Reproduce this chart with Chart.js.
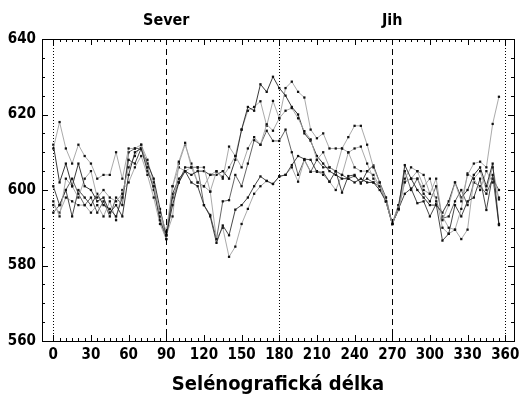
<!DOCTYPE html>
<html>
<head>
<meta charset="utf-8">
<script src="https://cdn.jsdelivr.net/npm/chart.js@4/dist/chart.umd.min.js"></script>
<style>
  html, body { margin: 0; padding: 0; background: #fff; }
  canvas { display: block; }
</style>
</head>
<body>
<canvas id="chart" width="520" height="400"></canvas>
<script>
// longitude samples every 5 degrees, 0..355
const longitudes = [];
for (let d = 0; d <= 355; d += 5) longitudes.push(d);

const xTicks = [0, 30, 60, 90, 120, 150, 180, 210, 240, 270, 300, 330, 360];
const yTicks = [560, 580, 600, 620, 640];
const dashedAt = [90, 270];
const dottedAt = [0, 180, 360];
const topLabels = [{ x: 90, text: 'Sever' }, { x: 270, text: 'Jih' }];

const series1 = [611, 618, 611, 607, 612, 609, 607, 603, 604, 604, 610, 603, 611, 611, 612, 606, 601, 594, 589,
  601, 607.5, 612.5, 606, 606, 606, 599.6, 604.9, 603.5, 606, 609, 606, 611, 614, 612, 617.4, 615.7, 619, 621, 621.7, 619, 615.6, 613.4, 608, 610, 606, 605, 611, 614, 617, 617, 612, 606, 602, 597, 591,
  595, 602, 603, 605, 604, 599, 603, 592, 596, 602, 597, 604, 607, 607.5, 606, 617.5, 624.7];
const series2 = [612, 602, 607, 601, 607, 601, 600, 597, 598, 594, 596, 593, 604, 610, 611, 607, 603, 595, 588,
  596, 602, 605, 604, 605, 605, 604, 604, 605, 603, 608, 616, 622, 621, 628, 626, 630, 627, 625, 622, 620, 615, 613, 609, 607, 605, 604, 603, 603, 602, 603, 602, 602, 600, 597, 591,
  595, 606.6, 603, 600, 598, 596, 596, 594, 597, 602, 598, 600, 604, 606, 601, 607, 591];
const series3 = [597, 593, 603, 601, 598, 603, 605, 598, 600, 598, 597, 599, 606, 609, 612, 608, 602, 593, 588,
  593, 607, 612, 607, 602, 601, 604, 605, 603, 611.5, 609, 616, 621, 622, 623.5, 617, 623.6, 619, 627, 628.7, 626, 624.5, 616, 613.7, 615, 611, 611, 611, 610, 606, 605, 605, 604, 601, 598, 591,
  596, 603, 606, 605, 601, 603, 597, 593, 590, 589.5, 595, 604.4, 603, 600, 605, 602, 598];
const series4 = [601, 596, 600, 593, 600, 598, 596, 599, 596, 595, 593, 598, 608, 607, 611, 605, 601, 592, 588,
  599, 603, 605, 602, 601, 596, 593, 586, 590.6, 588, 594.8, 596, 598, 601, 603.6, 602.4, 601.6, 603.6, 604, 606.6, 609, 608.2, 608, 604.8, 604.7, 602.2, 605, 599.3, 603.7, 604, 601.7, 605, 606.5, 602, 598, 591,
  595, 599, 600.4, 596.5, 597, 593, 596.3, 586.6, 588.4, 596, 593, 597, 598, 603, 594.7, 604, 590.7];
const series5 = [596, 594, 598, 597, 596, 596, 594, 596, 593, 597, 592, 600, 602, 606, 609, 604, 598, 591, 587,
  601, 606, 605, 606, 602, 601, 599.6, 587, 590, 582.3, 585, 591, 595, 599, 601, 602.4, 601.6, 603.6, 604, 606, 602.2, 608, 604.8, 605, 604, 602.2, 600, 604, 609.9, 611, 611.5, 607, 603, 601, 597, 591,
  594.7, 602.2, 603, 603, 600, 599, 598, 590, 588.4, 589.5, 587, 589.5, 603, 605, 600, 606, 597.5];
const series6 = [594, 596, 600, 603, 599, 596, 598, 594, 597, 593, 598, 596, 610, 611, 611, 606, 600, 592, 587,
  598, 602, 606, 606, 606, 596, 593.4, 587, 597, 597.3, 604, 601, 607, 613.2, 612, 615.7, 613, 613, 616, 610, 604, 608, 604.8, 608, 606, 606, 605, 604, 603, 603.7, 602, 603, 602, 601, 597, 591,
  596, 605, 600, 603, 599, 597, 601, 592.5, 593, 597, 600, 596, 602, 601, 599, 603, 600];

const allSeries = [series1, series2, series3, series4, series5, series6];
const lineColors = ['#a0a0a0', '#222', '#a0a0a0', '#333', '#a0a0a0', '#555'];

const FONT = "'DejaVu Sans Condensed', 'Liberation Sans', sans-serif";

const frameAndTicks = {
  id: 'frameAndTicks',
  afterDraw(chart) {
    const ctx = chart.ctx;
    const area = chart.chartArea;
    const xs = chart.scales.x, ys = chart.scales.y;
    ctx.save();
    ctx.strokeStyle = '#000';
    ctx.lineWidth = 1;

    // reference lines
    ctx.setLineDash([6, 4]);
    dashedAt.forEach(v => {
      const px = Math.round(xs.getPixelForValue(v)) + 0.5;
      ctx.beginPath(); ctx.moveTo(px, area.top); ctx.lineTo(px, area.bottom); ctx.stroke();
    });
    ctx.setLineDash([1, 2]);
    dottedAt.forEach(v => {
      const px = Math.round(xs.getPixelForValue(v)) + 0.5;
      ctx.beginPath(); ctx.moveTo(px, area.top); ctx.lineTo(px, area.bottom); ctx.stroke();
    });
    ctx.setLineDash([]);

    // frame
    ctx.strokeRect(Math.round(area.left) + 0.5, Math.round(area.top) + 0.5,
      Math.round(area.right - area.left), Math.round(area.bottom - area.top));

    // inward ticks
    for (let v = 0; v <= 360; v += 5) {
      const px = Math.round(xs.getPixelForValue(v)) + 0.5;
      const len = v % 30 === 0 ? 6 : 3;
      ctx.beginPath();
      ctx.moveTo(px, area.bottom); ctx.lineTo(px, area.bottom - len);
      ctx.moveTo(px, area.top); ctx.lineTo(px, area.top + len);
      ctx.stroke();
    }
    for (let v = 560; v <= 640; v += 5) {
      const py = Math.round(ys.getPixelForValue(v)) + 0.5;
      const len = v % 20 === 0 ? 6 : 3;
      ctx.beginPath();
      ctx.moveTo(area.left, py); ctx.lineTo(area.left + len, py);
      ctx.moveTo(area.right, py); ctx.lineTo(area.right - len, py);
      ctx.stroke();
    }

    // hemisphere labels
    ctx.fillStyle = '#000';
    ctx.font = 'bold 16px ' + FONT;
    ctx.textAlign = 'center';
    ctx.textBaseline = 'alphabetic';
    topLabels.forEach(l => {
      ctx.fillText(l.text, xs.getPixelForValue(l.x), 25);
    });
    ctx.restore();
  }
};

new Chart(document.getElementById('chart').getContext('2d'), {
  type: 'line',
  data: {
    datasets: allSeries.map((s, i) => ({
      data: s.map((v, j) => ({ x: longitudes[j], y: v })),
      borderColor: lineColors[i],
      borderWidth: 0.9,
      pointStyle: 'rect',
      pointRadius: 1.6,
      pointBackgroundColor: '#111',
      pointBorderWidth: 0,
      tension: 0
    }))
  },
  options: {
    responsive: false,
    animation: false,
    devicePixelRatio: 1,
    layout: { padding: { left: 0, right: 6, top: 39, bottom: 0 } },
    plugins: { legend: { display: false }, tooltip: { enabled: false } },
    scales: {
      x: {
        type: 'linear',
        min: -9,
        max: 367,
        afterBuildTicks: scale => { scale.ticks = xTicks.map(v => ({ value: v })); },
        afterFit: scale => {
          scale.height = 59;
          scale.paddingLeft = 0;
          scale.paddingRight = 0;
        },
        grid: { display: false, drawTicks: false },
        border: { display: false },
        ticks: {
          color: '#000',
          padding: 5,
          maxRotation: 0,
          autoSkip: false,
          font: { family: FONT, weight: 'bold', size: 15 }
        },
        title: {
          display: true,
          text: 'Selénografická délka',
          color: '#000',
          padding: { top: 0, bottom: 3 },
          font: { family: FONT, weight: 'bold', size: 20 }
        }
      },
      y: {
        min: 560,
        max: 640,
        afterBuildTicks: scale => { scale.ticks = yTicks.map(v => ({ value: v })); },
        afterFit: scale => {
          scale.width = 42;
          scale.paddingTop = 0;
          scale.paddingBottom = 0;
        },
        grid: { display: false, drawTicks: false },
        border: { display: false },
        ticks: {
          color: '#000',
          padding: 6,
          font: { family: FONT, weight: 'bold', size: 15 }
        }
      }
    }
  },
  plugins: [frameAndTicks]
});
</script>
</body>
</html>
